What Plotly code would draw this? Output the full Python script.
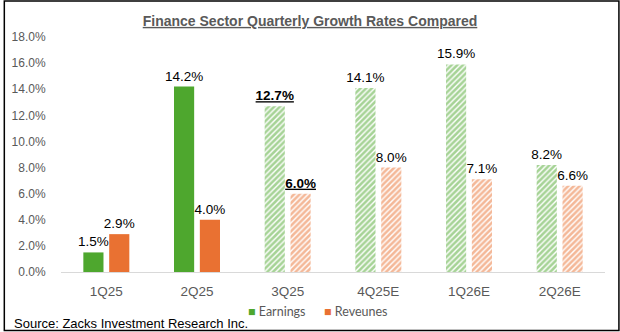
import plotly.graph_objects as go

categories = ["1Q25", "2Q25", "3Q25", "4Q25E", "1Q26E", "2Q26E"]
earnings = [1.5, 14.2, 12.7, 14.1, 15.9, 8.2]
revenues = [2.9, 4.0, 6.0, 8.0, 7.1, 6.6]
projected = [False, False, True, True, True, True]
highlight = [False, False, True, False, False, False]
y_ticks = [0, 2, 4, 6, 8, 10, 12, 14, 16, 18]

GREEN = "#4EA72E"
ORANGE = "#E97132"
GRAY = "#595959"

W, H = 620, 332
L, R, T, B = 58, 15, 37, 60
PW, PH = W - L - R, H - T - B


def px_x(px):
    return (px - L) / PW


def px_y(py):
    return (H - B - py) / PH


def label(v, hl):
    s = f"{v:.1f}%"
    return f"<b><u>{s}</u></b>" if hl else s


def series(name, vals, color):
    return go.Bar(
        name=name,
        x=categories,
        y=vals,
        text=[label(v, h) for v, h in zip(vals, highlight)],
        textposition="outside",
        constraintext="none",
        textfont=dict(family="Arial, Liberation Sans", size=13.5, color="black"),
        cliponaxis=False,
        marker=dict(
            color=color,
            line=dict(width=0),
            pattern=dict(
                shape=["/" if p else "" for p in projected],
                fgcolor=color,
                bgcolor="white",
                size=4,
                solidity=0.65,
            ),
        ),
        showlegend=False,
        hoverinfo="skip",
    )


fig = go.Figure([series("Earnings", earnings, GREEN), series("Reveunes", revenues, ORANGE)])

fig.update_layout(
    width=W,
    height=H,
    margin=dict(l=L, r=R, t=T, b=B),
    paper_bgcolor="white",
    plot_bgcolor="white",
    barmode="group",
    bargap=0.43,
    bargroupgap=0.22,
    uniformtext=dict(mode=False),
    title=dict(
        text="<u>Finance Sector Quarterly Growth Rates Compared</u>",
        font=dict(family="Arial, Liberation Sans", size=14, color=GRAY, weight="bold"),
        x=0.5,
        xanchor="center",
        xref="container",
        y=1 - 21 / H,
        yanchor="middle",
        yref="container",
    ),
    xaxis=dict(
        showgrid=False,
        showline=True,
        linecolor="#D9D9D9",
        linewidth=1,
        ticks="outside",
        ticklen=7,
        tickcolor="rgba(0,0,0,0)",
        tickfont=dict(family="Arial, Liberation Sans", size=13.5, color=GRAY),
        zeroline=False,
    ),
    yaxis=dict(
        range=[0, 18],
        tickvals=y_ticks,
        ticktext=[f"{v:.1f}%" for v in y_ticks],
        showgrid=False,
        showline=False,
        zeroline=False,
        ticks="outside",
        ticklen=12,
        tickcolor="rgba(0,0,0,0)",
        tickfont=dict(family="Arial, Liberation Sans", size=12, color=GRAY),
    ),
    shapes=[
        dict(
            type="rect",
            xref="paper",
            yref="paper",
            x0=px_x(1),
            x1=px_x(619),
            y0=px_y(330.5),
            y1=px_y(1),
            line=dict(color="black", width=1.5),
            fillcolor="rgba(0,0,0,0)",
            layer="above",
        )
    ],
    annotations=[
        dict(
            text=f"<span style='color:{GREEN}'>■</span> Earnings",
            xref="paper", yref="paper",
            x=px_x(244), y=px_y(311),
            xanchor="left", yanchor="middle",
            showarrow=False,
            font=dict(family="Lato, Arial", size=12.5, color=GRAY),
        ),
        dict(
            text=f"<span style='color:{ORANGE}'>■</span> Reveunes",
            xref="paper", yref="paper",
            x=px_x(320), y=px_y(311),
            xanchor="left", yanchor="middle",
            showarrow=False,
            font=dict(family="Lato, Arial", size=12.5, color=GRAY),
        ),
        dict(
            text="Source: Zacks Investment Research Inc.",
            xref="paper", yref="paper",
            x=px_x(9), y=px_y(323.5),
            xanchor="left", yanchor="middle",
            showarrow=False,
            font=dict(family="Arial, Liberation Sans", size=13, color="black"),
        ),
    ],
)

fig.write_html("out.html")
